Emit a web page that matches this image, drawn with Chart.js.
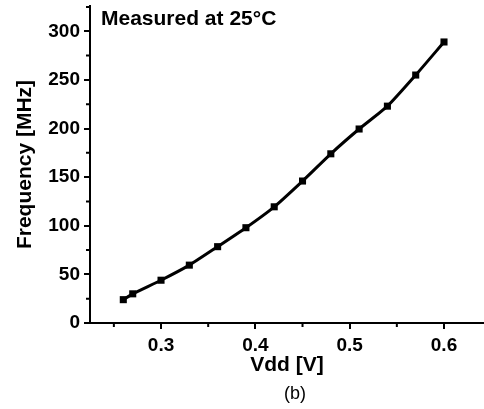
<!DOCTYPE html>
<html>
<head>
<meta charset="utf-8">
<script src="https://cdn.jsdelivr.net/npm/chart.js@4"></script>
<style>
  body { margin: 0; background: #fff; }
  #wrap { width: 484px; height: 409px; }
</style>
</head>
<body>
<div id="wrap"><canvas id="freqChart" width="484" height="409"></canvas></div>
<script>
"use strict";

// data
const vdd = [0.26, 0.27, 0.30, 0.33, 0.36, 0.39, 0.42, 0.45, 0.48, 0.51, 0.54, 0.57, 0.60];
const frequency = [24, 30, 44, 59.5, 78.5, 98, 119.5, 146, 174, 199.5, 223, 255, 289];
const xTicks = [0.3, 0.4, 0.5, 0.6];
const xMinorTicks = [0.25, 0.35, 0.45, 0.55];
const yTicks = [0, 50, 100, 150, 200, 250, 300];
const yMinorTicks = [25, 75, 125, 175, 225, 275, 325];
const noteText = 'Measured at 25°C';
const captionText = '(b)';

const FONT = '"Liberation Sans", Arial, sans-serif';

const minorTicks = {
  id: 'minorTicks',
  afterDraw: (chart) => {
    const ctx = chart.ctx;
    const xs = chart.scales.x;
    const ys = chart.scales.y;
    ctx.save();
    ctx.strokeStyle = '#000';
    ctx.lineWidth = 2;
    ctx.beginPath();
    xMinorTicks.forEach((v) => {
      const px = xs.getPixelForValue(v);
      ctx.moveTo(px, xs.top);
      ctx.lineTo(px, xs.top + 4);
    });
    yMinorTicks.forEach((v) => {
      const py = ys.getPixelForValue(v);
      ctx.moveTo(ys.right, py);
      ctx.lineTo(ys.right - 4, py);
    });
    ctx.stroke();
    ctx.restore();
  }
};

// note in the top left corner and the caption under the axis title
const textLabels = {
  id: 'textLabels',
  afterDraw: (chart) => {
    const ctx = chart.ctx;
    const area = chart.chartArea;
    ctx.save();
    ctx.fillStyle = '#000';
    ctx.textBaseline = 'middle';
    ctx.font = 'bold 21px ' + FONT;
    ctx.fillText(noteText, area.left + 11, 19);
    ctx.font = '18px ' + FONT;
    ctx.textAlign = 'center';
    ctx.fillText(captionText, (area.left + area.right) / 2 + 8, 394);
    ctx.restore();
  }
};

const points = vdd.map((v, i) => ({ x: v, y: frequency[i] }));

const ctx = document.getElementById('freqChart').getContext('2d');
const myChart = new Chart(ctx, {
  type: 'line',
  data: {
    datasets: [{
      data: points,
      borderColor: '#000',
      backgroundColor: '#000',
      borderWidth: 3,
      tension: 0.2,
      pointStyle: 'rect',
      pointRadius: 5,
      pointBorderWidth: 0,
      pointBackgroundColor: '#000',
      clip: false
    }]
  },
  options: {
    responsive: false,
    animation: false,
    layout: { autoPadding: false, padding: { left: 0, right: 0, top: 6, bottom: 25.6 } },
    plugins: {
      legend: { display: false },
      tooltip: { enabled: false }
    },
    scales: {
      x: {
        type: 'linear',
        min: 0.2247,
        max: 0.6424,
        afterBuildTicks: (scale) => { scale.ticks = xTicks.map(v => ({ value: v })); },
        afterFit: (scale) => {
          scale.height = 60.4;
          scale.paddingLeft = 0;
          scale.paddingRight = 0;
        },
        border: { color: '#000', width: 2 },
        grid: { drawOnChartArea: false, drawTicks: true, tickLength: 6, color: '#000', lineWidth: 2 },
        ticks: {
          color: '#000',
          padding: 5,
          maxRotation: 0,
          font: { family: FONT, size: 19, weight: 'bold' },
          callback: (v) => v.toFixed(1)
        },
        title: {
          display: true,
          text: 'Vdd [V]',
          color: '#000',
          font: { family: FONT, size: 21, weight: 'bold' },
          padding: { top: 0, bottom: 6 }
        }
      },
      y: {
        min: 0,
        max: 326,
        afterBuildTicks: (scale) => { scale.ticks = yTicks.map(v => ({ value: v })); },
        afterFit: (scale) => {
          scale.width = 90;
          scale.paddingTop = 0;
          scale.paddingBottom = 0;
        },
        border: { color: '#000', width: 2 },
        grid: { drawOnChartArea: false, drawTicks: true, tickLength: 6, color: '#000', lineWidth: 2 },
        ticks: {
          color: '#000',
          padding: 4,
          font: { family: FONT, size: 19, weight: 'bold' }
        },
        title: {
          display: true,
          text: 'Frequency [MHz]',
          color: '#000',
          font: { family: FONT, size: 21, weight: 'bold' },
          padding: { top: 13, bottom: 0 }
        }
      }
    }
  },
  plugins: [minorTicks, textLabels]
});
</script>
</body>
</html>
